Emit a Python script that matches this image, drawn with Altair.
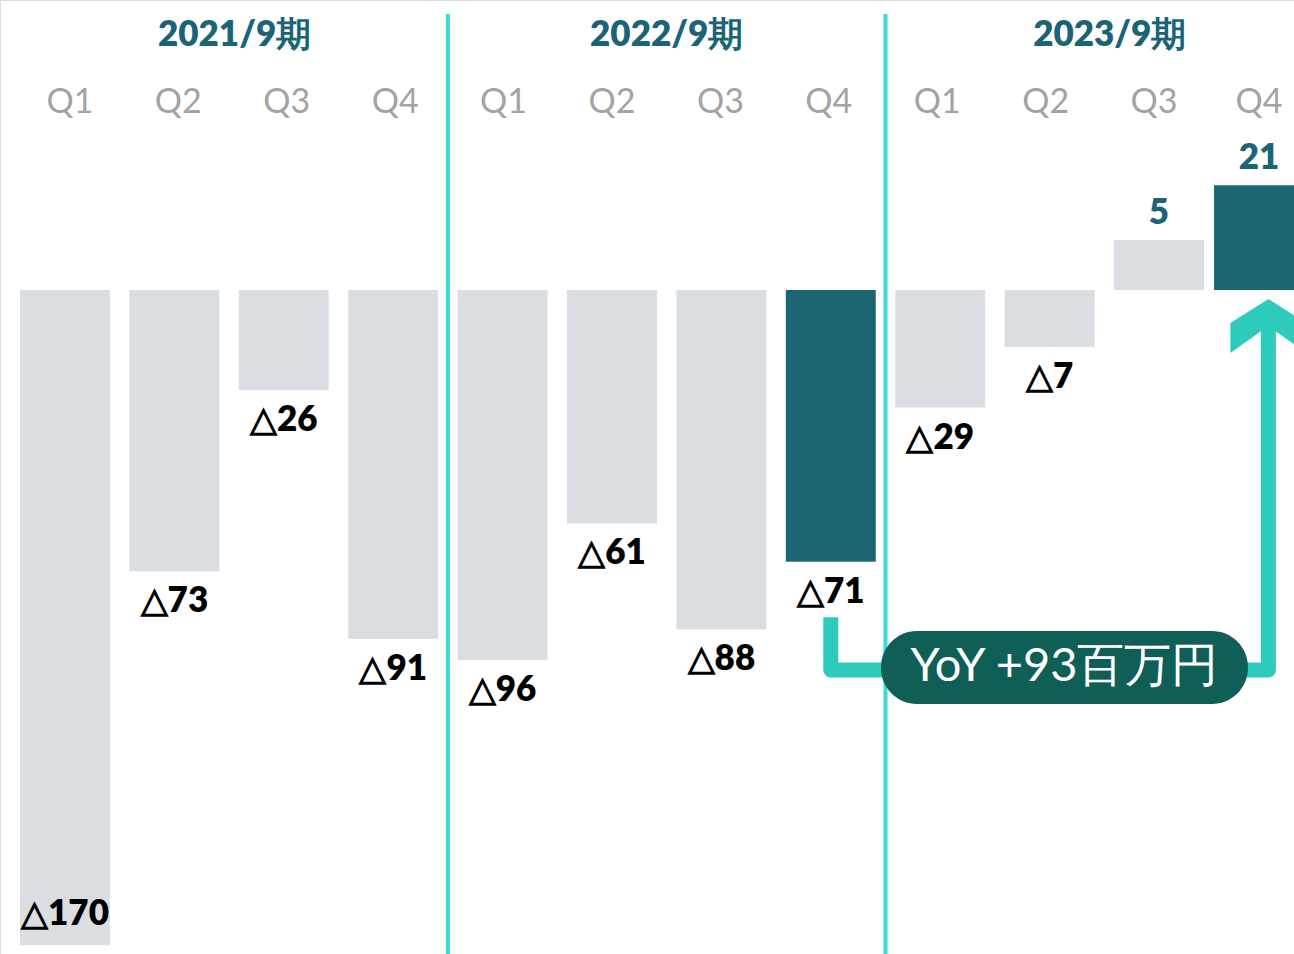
import altair as alt
import pandas as pd

# ---- data ----
periods = ["2021/9期", "2022/9期", "2023/9期"]
quarters = ["Q1", "Q2", "Q3", "Q4"] * 3
labels = ["△170", "△73", "△26", "△91", "△96", "△61", "△88", "△71", "△29", "△7", "5", "21"]
values = [-170, -73, -26, -91, -96, -61, -88, -71, -29, -7, 5, 21]
# drawn bar lengths as they appear (small bars are drawn exaggerated in the original)
bar_len = [-170, -73, -26, -90.5, -96, -60.5, -88, -70.5, -30.5, -14.8, 13, 27.2]
highlight = [False] * 7 + [True] + [False] * 3 + [True]
yoy_text = "YoY +93百万円"

FONT = "Lato"
GRAY_BAR = "#dadde1"
TEAL_BAR = "#1c6674"
TEAL_TXT = "#1b6475"
SEP = "#3dd9d3"
BRACKET = "#2ecbbd"
PILL = "#105f57"

n = len(values)
df = pd.DataFrame({
    "i": list(range(n)),
    "q": quarters,
    "label": labels,
    "value": values,
    "bar": bar_len,
    "hl": highlight,
})
df["pos"] = ["inside" if v <= -150 else ("above" if v > 0 else "below") for v in values]

xs = alt.Scale(domain=[-0.594, 11.234], nice=False, zero=False)
ys = alt.Scale(domain=[-172.3, 75.27], nice=False, zero=False)
X = lambda f: alt.X(f, type="quantitative", scale=xs, axis=None)
Y = lambda f: alt.Y(f, type="quantitative", scale=ys, axis=None)

# the last column sits a little closer to its neighbour in the original layout
base = alt.Chart(df).transform_calculate(
    xc="datum.i == 11 ? 10.914 : datum.i",
    xq="datum.i == 11 ? 10.914 : 0.045 + datum.i * 0.991",
)

bars = base.transform_calculate(
    x0="datum.xc - 0.411", x1="datum.xc + 0.411", zero="0"
).mark_rect(clip=True).encode(
    x=X("x0"), x2="x1:Q",
    y=Y("zero"), y2="bar:Q",
    color=alt.condition("datum.hl", alt.value(TEAL_BAR), alt.value(GRAY_BAR)),
)

lab_common = dict(font=FONT, fontSize=35, fontWeight=800, baseline="middle", align="center")
lab_below = base.transform_filter("datum.pos == 'below'").mark_text(dy=30, color="#000000", **lab_common).encode(
    x=X("xc"), y=Y("bar"), text="label:N")
lab_inside = base.transform_filter("datum.pos == 'inside'").mark_text(dy=-31, color="#000000", **lab_common).encode(
    x=X("xc"), y=Y("bar"), text="label:N")
lab_above = base.transform_filter("datum.pos == 'above'").mark_text(dy=-27, color=TEAL_TXT, **lab_common).encode(
    x=X("xc"), y=Y("bar"), text="label:N")

q_text = base.mark_text(font=FONT, fontSize=34, color="#a3a3a3", baseline="middle", align="center").encode(
    x=X("xq"), y=alt.value(103), text="q:N")

per_df = pd.DataFrame({"p": periods, "i": [1.55, 5.5, 9.55]})
per_text = alt.Chart(per_df).mark_text(font=FONT, fontSize=35, fontWeight=800, color=TEAL_TXT,
                                       baseline="middle", align="center").encode(
    x=X("i"), y=alt.value(35), text="p:N")

sep_df = pd.DataFrame({"i": [3.5, 7.5]})
seps = alt.Chart(sep_df).mark_rule(color=SEP, strokeWidth=4).encode(
    x=X("i"), y=alt.value(14), y2=alt.value(954))

br_df = pd.DataFrame({"x": [7.0, 7.0, 11.0, 11.0], "y": [-84.9, -98.6, -98.6, -8.0], "o": [0, 1, 2, 3]})
bracket = alt.Chart(br_df).mark_line(color=BRACKET, strokeWidth=15, strokeJoin="round", strokeCap="butt",
                                     clip=True).encode(
    x=X("x"), y=Y("y"), order="o:Q")

arrow_df = pd.DataFrame({"x": [11.0], "y": [-9.34]})
arrow = alt.Chart(arrow_df).mark_point(
    shape="M0,-0.71 L1,-0.08 L1,0.71 L0,0 L-1,0.71 L-1,-0.08 Z",
    size=76 * 76, filled=True, fill=BRACKET, opacity=1, strokeWidth=0, clip=True,
).encode(x=X("x"), y=Y("y"))

pill_df = pd.DataFrame({"x0": [7.459], "x1": [10.813], "y0": [-88.5], "y1": [-107.4],
                        "tx": [9.136], "ty": [-97.8], "t": [yoy_text]})
pill = alt.Chart(pill_df).mark_rect(color=PILL, cornerRadius=36).encode(
    x=X("x0"), x2="x1:Q", y=Y("y0"), y2="y1:Q")
pill_text = alt.Chart(pill_df).mark_text(font=FONT, fontSize=47, color="white", baseline="middle",
                                         align="center").encode(
    x=X("tx"), y=Y("ty"), text="t:N")

chart = alt.layer(
    bars, seps, bracket, arrow, pill, pill_text, lab_below, lab_inside, lab_above, q_text, per_text
).properties(width=1294, height=954, padding=0, autosize=alt.AutoSizeParams(type="none")
).configure_view(stroke=None).configure(background="white")

chart.save("out.html", embed_options={"renderer": "svg", "actions": False})
